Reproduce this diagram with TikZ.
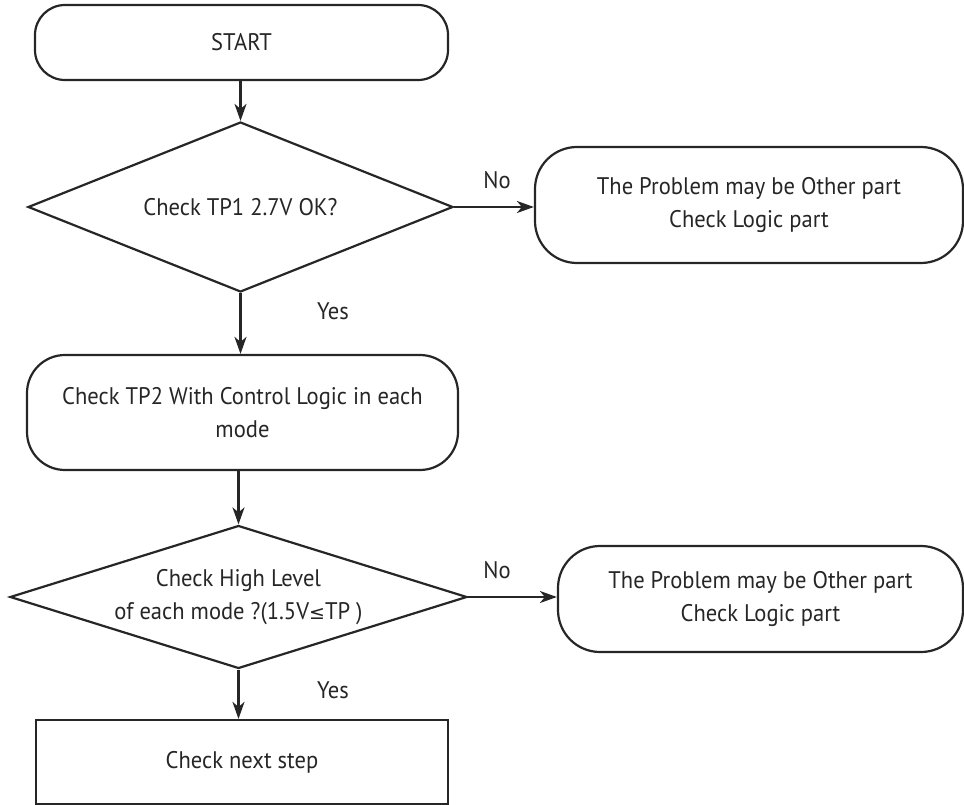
\documentclass[tikz,border=0pt]{standalone}
\usepackage{fontspec}
\setmainfont[FakeStretch=0.94]{PT Sans}
\usetikzlibrary{shapes.geometric,arrows.meta}
\begin{document}
\begin{tikzpicture}[x=1pt,y=-1pt,
  every node/.style={font=\fontsize{24}{33}\selectfont, align=center, text=black!85},
  line/.style={line width=2.2pt, draw=black!85},
  flow/.style={line, -{Stealth[length=17pt,width=12pt,inset=5pt]}},
  term/.style={line, rectangle, rounded corners=#1, inner sep=0pt},
  term/.default=30pt,
  decide/.style={line, diamond, inner sep=0pt},
  stepbox/.style={line, rectangle, inner sep=0pt},
  lbl/.style={font=\fontsize{24}{28}\selectfont}
]
\useasboundingbox (0,0) rectangle (964,805);

\node[term=30pt, minimum width=413pt, minimum height=75pt] (start) at (241.5,42.5) {START};
\node[decide, aspect=2.5, minimum width=425pt, minimum height=170pt] (d1) at (240.5,207) {Check TP1 2.7V OK?};
\node[term=42pt, minimum width=428pt, minimum height=116pt] (b1) at (749,205) {The Problem may be Other part\\Check Logic part};
\node[term=38pt, minimum width=431pt, minimum height=115pt] (b2) at (242.5,412.5) {Check TP2 With Control Logic in each\\mode};
\node[decide, aspect=3.2, minimum width=457pt, minimum height=143pt] (d2) at (238.5,597) {Check High Level\\of each mode ?(1.5V{\fontspec{DejaVu Sans}\fontsize{19}{28}\selectfont ≤}TP )};
\node[term=42pt, minimum width=405pt, minimum height=106pt] (b3) at (760.5,599) {The Problem may be Other part\\Check Logic part};
\node[stepbox, minimum width=412pt, minimum height=84pt] (fin) at (242,762) {Check next step};

\draw[flow] (start.south -| d1.north) -- (d1.north);
\draw[flow] (d1.east) -- (d1.east -| b1.west);
\draw[flow] (d1.south) -- (d1.south |- b2.north);
\draw[flow] (b2.south -| d2.north) -- (d2.north);
\draw[flow] (d2.east) -- (d2.east -| b3.west);
\draw[flow] (d2.south) -- (d2.south |- fin.north);

\node[lbl] (no1) at (497,180) {No};
\node[lbl] (yes1) at (333,311) {Yes};
\node[lbl] (no2) at (497,570) {No};
\node[lbl] (yes2) at (333,690) {Yes};
\end{tikzpicture}
\end{document}
